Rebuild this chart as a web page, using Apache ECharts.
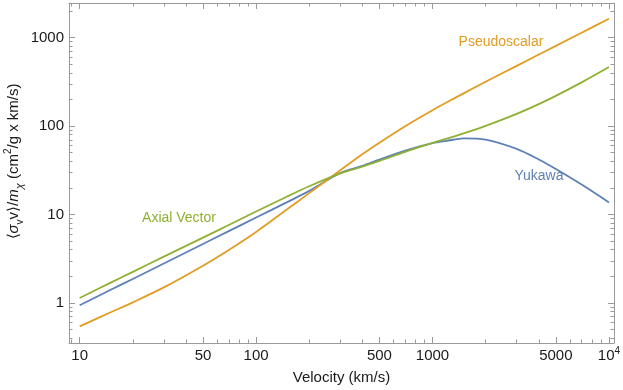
<!DOCTYPE html>
<html><head><meta charset="utf-8">
<script src="https://cdn.jsdelivr.net/npm/echarts@6/dist/echarts.min.js"></script>
<style>html,body{margin:0;padding:0;background:#fff}#c{width:623px;height:390px}</style>
</head><body><div id="c"></div>
<script>
// ---- data ----
const velocity     = [10, 15, 20, 30, 50, 70, 100, 150, 200, 300, 400, 500, 700, 1000, 1200, 1500, 2000, 3000, 4000, 5000, 7000, 10000];
const yukawa       = [0.942, 1.41, 1.87, 2.80, 4.65, 6.49, 9.25, 13.8, 18.5, 29.5, 35.5, 41.8, 52.7, 64.1, 68.0, 72.5, 70.2, 55.1, 41.9, 32.7, 21.8, 13.7];
const pseudoscalar = [0.545, 0.785, 1.016, 1.50, 2.64, 3.98, 6.36, 11.45, 17.45, 31.7, 48.0, 64.9, 99.7, 151.2, 184.8, 234.2, 316.7, 478.8, 642.7, 805.8, 1136, 1631];
const axialVector  = [1.14, 1.70, 2.25, 3.34, 5.48, 7.61, 10.8, 16.0, 20.9, 29.2, 34.8, 40.3, 51.1, 64.4, 72.0, 82.8, 100.7, 137.5, 177.2, 219.5, 311.5, 464.5];

const xMajorTicks = [10, 50, 100, 500, 1000, 5000, 10000];
const xMinorTicks = [9, 20, 30, 40, 60, 70, 80, 90, 200, 300, 400, 600, 700, 800, 900, 2000, 3000, 4000, 6000, 7000, 8000, 9000];
const yMajorTicks = [1, 10, 100, 1000];
const yMinorTicks = [0.4, 0.5, 0.6, 0.7, 0.8, 0.9, 2, 3, 4, 5, 6, 7, 8, 9, 20, 30, 40, 50, 60, 70, 80, 90, 200, 300, 400, 500, 600, 700, 800, 900, 2000];

const X_MIN = 8.7, X_MAX = 10680;
const Y_MIN = 0.353, Y_MAX = 2460;

const AX = '#9a9a9a';
const FONT = '"Liberation Sans", Arial, sans-serif';
const BLUE = '#5E81B5', ORANGE = '#E19C24', GREEN = '#8FB032';

function zip(xs, ys) { return xs.map((x, i) => [x, ys[i]]); }

function xAxisDef(pos, major, labels) {
  return {
    type: 'log', logBase: 10, position: pos, min: X_MIN, max: X_MAX,
    axisLine: { show: major, lineStyle: { color: AX, width: 1 } },
    axisTick: { show: true, inside: true, length: major ? 6 : 3.5,
                customValues: major ? xMajorTicks : xMinorTicks,
                lineStyle: { color: AX, width: 1 } },
    axisLabel: labels ? {
      show: true, customValues: xMajorTicks, margin: 3,
      color: '#1a1a1a', fontFamily: FONT, fontSize: 15,
      formatter: v => { const r = Math.round(v); return r === 10000 ? '{n|10}{s|4}' : '{n|' + r + '}'; },
      rich: { n: { fontSize: 15, lineHeight: 20, fontFamily: FONT, color: '#1a1a1a' },
              s: { fontSize: 10, lineHeight: 10, verticalAlign: 'top', fontFamily: FONT, color: '#1a1a1a' } }
    } : { show: false },
    splitLine: { show: false }, minorTick: { show: false }, minorSplitLine: { show: false }
  };
}
function yAxisDef(pos, major, labels) {
  return {
    type: 'log', logBase: 10, position: pos, min: Y_MIN, max: Y_MAX,
    axisLine: { show: major, lineStyle: { color: AX, width: 1 } },
    axisTick: { show: true, inside: true, length: major ? 6 : 3.5,
                customValues: major ? yMajorTicks : yMinorTicks,
                lineStyle: { color: AX, width: 1 } },
    axisLabel: labels ? {
      show: true, customValues: yMajorTicks, margin: 5,
      color: '#1a1a1a', fontFamily: FONT, fontSize: 15,
      formatter: v => String(Math.round(v))
    } : { show: false },
    splitLine: { show: false }, minorTick: { show: false }, minorSplitLine: { show: false }
  };
}

const chart = echarts.init(document.getElementById('c'), null, { renderer: 'canvas' });
const xAxes = [xAxisDef('bottom', true, true), xAxisDef('bottom', false, false), xAxisDef('top', true, false), xAxisDef('top', false, false)];
const yAxes = [yAxisDef('left', true, true), yAxisDef('left', false, false), yAxisDef('right', true, false), yAxisDef('right', false, false)];
xAxes[0].name = 'Velocity (km/s)';
xAxes[0].nameLocation = 'middle';
xAxes[0].nameGap = 27;
xAxes[0].nameTextStyle = { fontFamily: FONT, fontSize: 15, color: '#1a1a1a' };

function lineSeries(name, ys, color, z) {
  return { name, type: 'line', data: zip(velocity, ys), xAxisIndex: 0, yAxisIndex: 0,
           showSymbol: false, smooth: 0.3, z,
           lineStyle: { color, width: 1.8 }, itemStyle: { color } };
}

chart.setOption({
  animation: false,
  backgroundColor: '#fff',
  grid: { left: 69, right: 9, top: 3, bottom: 47, containLabel: false, outerBoundsMode: 'none' },
  xAxis: xAxes,
  yAxis: yAxes,
  series: [
    lineSeries('Yukawa', yukawa, BLUE, 2),
    lineSeries('Pseudoscalar', pseudoscalar, ORANGE, 3),
    lineSeries('Axial Vector', axialVector, GREEN, 4)
  ],
  graphic: [
    { type: 'text', x: 501, y: 42, style: { text: 'Pseudoscalar', fill: ORANGE, font: '14px ' + FONT, align: 'center', verticalAlign: 'middle' } },
    { type: 'text', x: 539, y: 176, style: { text: 'Yukawa', fill: BLUE, font: '14px ' + FONT, align: 'center', verticalAlign: 'middle' } },
    { type: 'text', x: 179, y: 218.5, style: { text: 'Axial Vector', fill: GREEN, font: '14px ' + FONT, align: 'center', verticalAlign: 'middle' } },
    { type: 'text', x: 14, y: 161.5, rotation: Math.PI / 2,
      style: {
        text: '⟨{it|σ}{sub|v}v⟩/{it|m}{subi|χ} (cm{sup|2}/g x km/s)',
        fill: '#1a1a1a', fontFamily: FONT, fontSize: 15, lineHeight: 22,
        align: 'center', verticalAlign: 'middle',
        rich: {
          it: { fontStyle: 'italic', fontFamily: FONT, fontSize: 15, lineHeight: 22, fill: '#1a1a1a' },
          sub: { fontFamily: FONT, fontSize: 10, lineHeight: 10, verticalAlign: 'bottom', fill: '#1a1a1a' },
          subi: { fontStyle: 'italic', fontFamily: FONT, fontSize: 11, lineHeight: 11, verticalAlign: 'bottom', fill: '#1a1a1a' },
          sup: { fontFamily: FONT, fontSize: 10, lineHeight: 10, verticalAlign: 'top', fill: '#1a1a1a' }
        }
      } }
  ]
});
</script></body></html>
